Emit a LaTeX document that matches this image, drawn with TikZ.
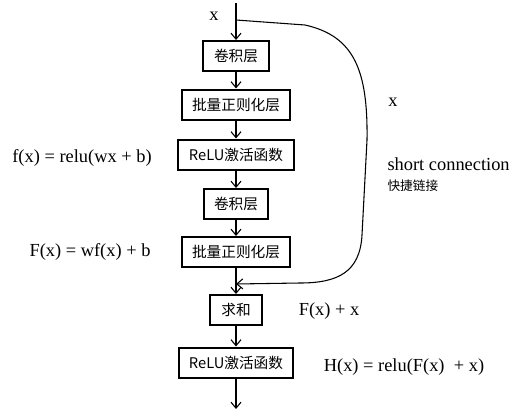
\documentclass[tikz,border=0pt]{standalone}
\usepackage{fontspec}
\setmainfont{Liberation Serif}
\newfontfamily\cjk{Noto Sans CJK SC}
\usepackage{tikz}
\usetikzlibrary{positioning,arrows.meta,calc}

\begin{document}
\begin{tikzpicture}[x=0.75pt,y=-0.75pt,
  layer/.style={draw,line width=1.5pt,minimum height=22.5pt,inner sep=0pt,font=\cjk\fontsize{11}{13}\selectfont},
  lbl/.style={font=\fontsize{13.8}{16}\selectfont,inner sep=0pt},
  >={Straight Barb[length=4.5pt,width=7.5pt]},line width=0.8pt]
\useasboundingbox (0,0) rectangle (528,418);
\coordinate (in) at (236,3);
\coordinate (split) at (236,20);
\node[layer,minimum width=49pt] (conva) at (236,56) {卷积层};
\node[layer,minimum width=81pt] (bna) at (236,104.5) {批量正则化层};
\node[layer,minimum width=87pt] (relua) at (236,154.5) {ReLU激活函数};
\node[layer,minimum width=48pt] (convb) at (236,204) {卷积层};
\node[layer,minimum width=81pt] (bnb) at (236,252) {批量正则化层};
\coordinate (join) at (236,284);
\node[layer,minimum width=39pt] (sum) at (236,310) {求和};
\node[layer,minimum width=85.5pt] (relub) at (236,362.5) {ReLU激活函数};
\coordinate (out) at (236,409);
\draw[->] (in) -- (conva);
\foreach \a/\b in {conva/bna,bna/relua,relua/convb,convb/bnb,sum/relub,relub/out}
  \draw[->] (\a) -- (\b);
\draw (bnb) -- (join);
\draw[->] (join) -- (sum);
% shortcut
\draw[->] (split) -- (305,25) .. controls (354,36) and (368,70) .. (367,140)
  -- (362,235) .. controls (360,272) and (338,283) .. (300,283) -- (join);
\node[lbl] (xin) at (214,16) {x};
\node[lbl] (xsc) at (393,102) {x};
\node[lbl,anchor=west] (sctxt) at (387,164) {short connection};
\node[anchor=west,inner sep=0pt,font=\cjk\fontsize{9.5}{11}\selectfont] (sccn) at (387,186) {快捷链接};
\node[lbl] (fx) at (82,158) {f(x) = relu(wx + b)};
\node[lbl] (Fx) at (90,252) {F(x) = wf(x) + b};
\node[lbl] (Fxx) at (329,311) {F(x) + x};
\node[lbl] (Hx) at (404,367) {H(x) = relu(F(x)\ \ + x)};
\end{tikzpicture}
\end{document}
